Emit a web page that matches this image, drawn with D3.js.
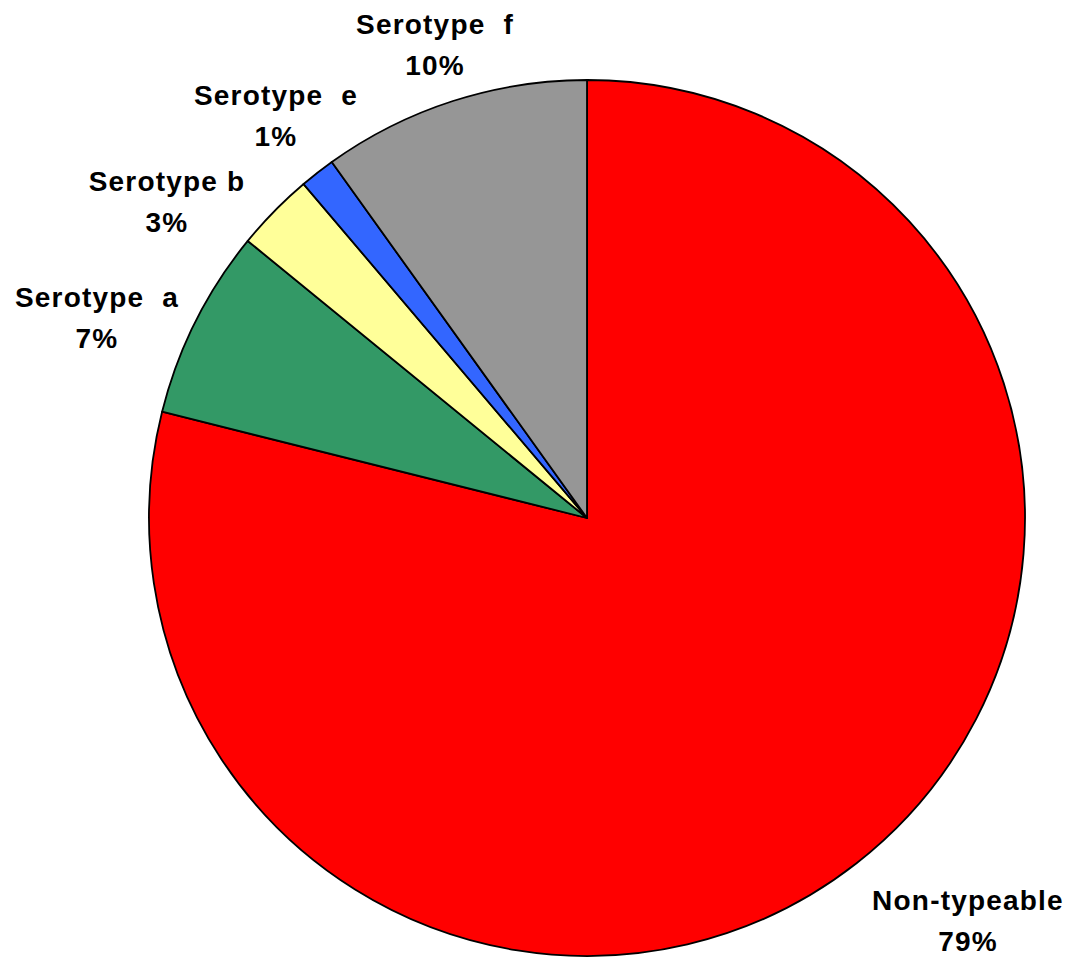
<!DOCTYPE html>
<html>
<head>
<meta charset="utf-8">
<script src="https://cdn.jsdelivr.net/npm/d3@7"></script>
<style>
  body { margin: 0; background: #fff; }
  text { font-family: "Liberation Sans", Arial, sans-serif; font-weight: bold; font-size: 28px; fill: #000; letter-spacing: 1.2px; }
</style>
</head>
<body>
<svg id="chart" width="1070" height="959"></svg>
<script>
// serotype shares (clockwise from 12 o'clock)
var names = ["Non-typeable", "Serotype  a", "Serotype b", "Serotype  e", "Serotype  f"];
var values = [78.9, 7.0, 2.9, 1.3, 9.9];
var pctLabels = ["79%", "7%", "3%", "1%", "10%"];
var colors = ["#ff0000", "#339966", "#ffff99", "#3366ff", "#969696"];
// label anchor points (centre x, first baseline y)
var labelPos = [[968, 910], [97, 307], [167, 191], [276, 105], [435, 34]];

var svg = d3.select("#chart");
var cx = 587, cy = 518, r = 438;

var pie = d3.pie().sort(null).value(function(d) { return d; });
var arc = d3.arc().innerRadius(0).outerRadius(r);

var g = svg.append("g").attr("transform", "translate(" + cx + "," + cy + ")");

g.selectAll("path")
  .data(pie(values))
  .enter().append("path")
  .attr("d", arc)
  .attr("fill", function(d, i) { return colors[i]; })
  .attr("stroke", "#000")
  .attr("stroke-width", 1.8)
  .attr("stroke-linejoin", "round");

var labels = svg.selectAll(".lbl")
  .data(names)
  .enter().append("text")
  .attr("class", "lbl")
  .attr("text-anchor", "middle")
  .attr("xml:space", "preserve")
  .style("white-space", "pre");

labels.append("tspan")
  .attr("x", function(d, i) { return labelPos[i][0]; })
  .attr("y", function(d, i) { return labelPos[i][1]; })
  .text(function(d) { return d; });

labels.append("tspan")
  .attr("x", function(d, i) { return labelPos[i][0]; })
  .attr("y", function(d, i) { return labelPos[i][1] + 41; })
  .text(function(d, i) { return pctLabels[i]; });
</script>
</body>
</html>
